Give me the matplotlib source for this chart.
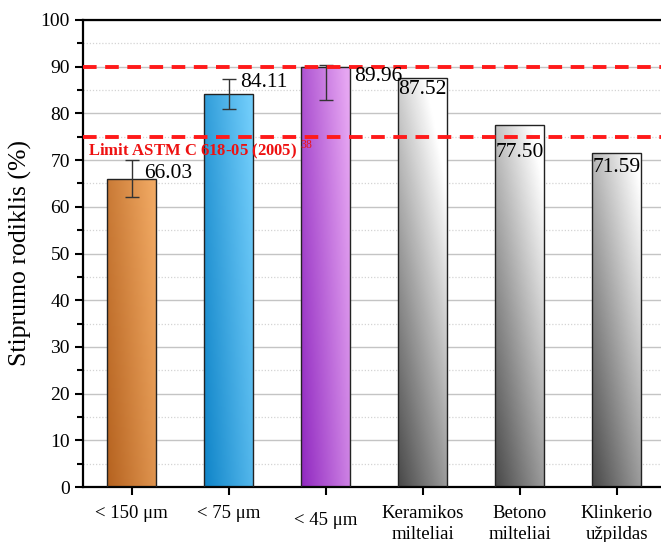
import numpy as np
import matplotlib
matplotlib.use('Agg')
import matplotlib.pyplot as plt
from matplotlib.colors import LinearSegmentedColormap
from matplotlib.ticker import MultipleLocator
import matplotlib.transforms as mtransforms

plt.rcParams['font.family'] = ['Liberation Serif', 'DejaVu Serif']
plt.rcParams['mathtext.fontset'] = 'custom'
plt.rcParams['mathtext.rm'] = 'Liberation Serif'

# Duomenys
kategorijos = ['< 150 μm', '< 75 μm', '< 45 μm',
               'Keramikos\nmilteliai', 'Betono\nmilteliai', 'Klinkerio\nužpildas']
reiksmes = [66.03, 84.11, 89.96, 87.52, 77.50, 71.59]
paklaida_apacia = [4.0, 3.2, 7.0, 0, 0, 0]
paklaida_virsus = [4.0, 3.2, 0.3, 0, 0, 0]
ribos = [90, 75]

# Spalvos: tamsesne apacioje kaireje, sviesesne virsuje desineje
spalvos = [('#b5621f', '#f0a862'),
           ('#0f84c8', '#70ccfa'),
           ('#9028c0', '#e6a6f2'),
           ('#484848', '#ffffff'),
           ('#484848', '#ffffff'),
           ('#484848', '#ffffff')]

fig = plt.figure(figsize=(6.61, 5.42), dpi=100)
ax = fig.add_axes([83 / 661, 55 / 542, 582 / 661, 467 / 542])

x = np.arange(len(kategorijos))
plotis = 0.5
bars = ax.bar(x, reiksmes, width=plotis, facecolor='none', edgecolor='#222222',
              linewidth=1.0, zorder=3)

# Gradientinis uzpildymas kiekvienam stulpeliui
for b, (c0, c1), i in zip(bars, spalvos, range(len(bars))):
    cmap = LinearSegmentedColormap.from_list('g%d' % i, [c0, c1])
    u = np.linspace(0, 1, 60)
    v = np.linspace(0, 1, 200)
    U, V = np.meshgrid(u, v)
    if i >= 3:
        T = np.clip(0.45 * U + 0.85 * V * b.get_height() / 100, 0, 1)
    else:
        T = np.clip(0.7 * U + 0.35 * V, 0, 1)
    im = ax.imshow(T, cmap=cmap, origin='lower', aspect='auto',
                   extent=[b.get_x(), b.get_x() + b.get_width(), 0, b.get_height()],
                   zorder=2.5, interpolation='bilinear')
    im.set_clip_path(b)

ax.errorbar(x[:3], reiksmes[:3], yerr=[paklaida_apacia[:3], paklaida_virsus[:3]],
            fmt='none', ecolor='#333333', elinewidth=1.0, capsize=5, capthick=1.0,
            zorder=4)

# Ribines linijos
for r in ribos:
    ax.axhline(r, color='#ff1a1a', linestyle=(0, (3.5, 2.2)), linewidth=2.8, zorder=5)

# Reiksmiu uzrasai
poslinkiai = [(0.13, 1.0), (0.12, 2.4), (0.29, -2.0),
              (0, -2.5), (0, -5.8), (0, -3.1)]
for i in range(6):
    dx, dy = poslinkiai[i]
    ax.text(x[i] + dx, reiksmes[i] + dy, '%.2f' % reiksmes[i], fontsize=15.5,
            ha='left' if i < 3 else 'center', va='center', zorder=6)

ax.text(-0.45, 72.3, r'Limit ASTM C 618-05 (2005) $^{38}$', color='#ee1111',
        fontsize=12, fontweight='bold', ha='left', va='center', zorder=7)

ax.set_xlim(-0.5, 5.5)
ax.set_ylim(0, 100)
ax.yaxis.set_major_locator(MultipleLocator(10))
ax.yaxis.set_minor_locator(MultipleLocator(5))
ax.grid(axis='y', which='major', color='#c4c4c4', linewidth=1.0, zorder=0)
ax.grid(axis='y', which='minor', color='#d4d4d4', linewidth=0.9,
        linestyle=(0, (1, 1.5)), zorder=0)
ax.set_axisbelow(True)

ax.set_xticks(x)
ax.set_xticklabels(kategorijos, fontsize=13.5, linespacing=1.3)
ax.tick_params(axis='both', direction='out', width=1.5, length=6, colors='black')
ax.tick_params(axis='y', which='minor', direction='out', width=1.5, length=4)
ax.tick_params(axis='y', labelsize=14)
ax.tick_params(axis='x', pad=7)

# "< 45 μm" uzrasas siek tiek zemiau
lbl = ax.get_xticklabels()[2]
lbl.set_transform(lbl.get_transform() + mtransforms.ScaledTranslation(0, -5 / 72, fig.dpi_scale_trans))

for s in ['left', 'bottom', 'top']:
    ax.spines[s].set_linewidth(1.6)
ax.spines['right'].set_visible(False)

ax.set_ylabel('Stiprumo rodiklis (%)', fontsize=18.5, labelpad=6)

fig.savefig('out.png', dpi=100)
